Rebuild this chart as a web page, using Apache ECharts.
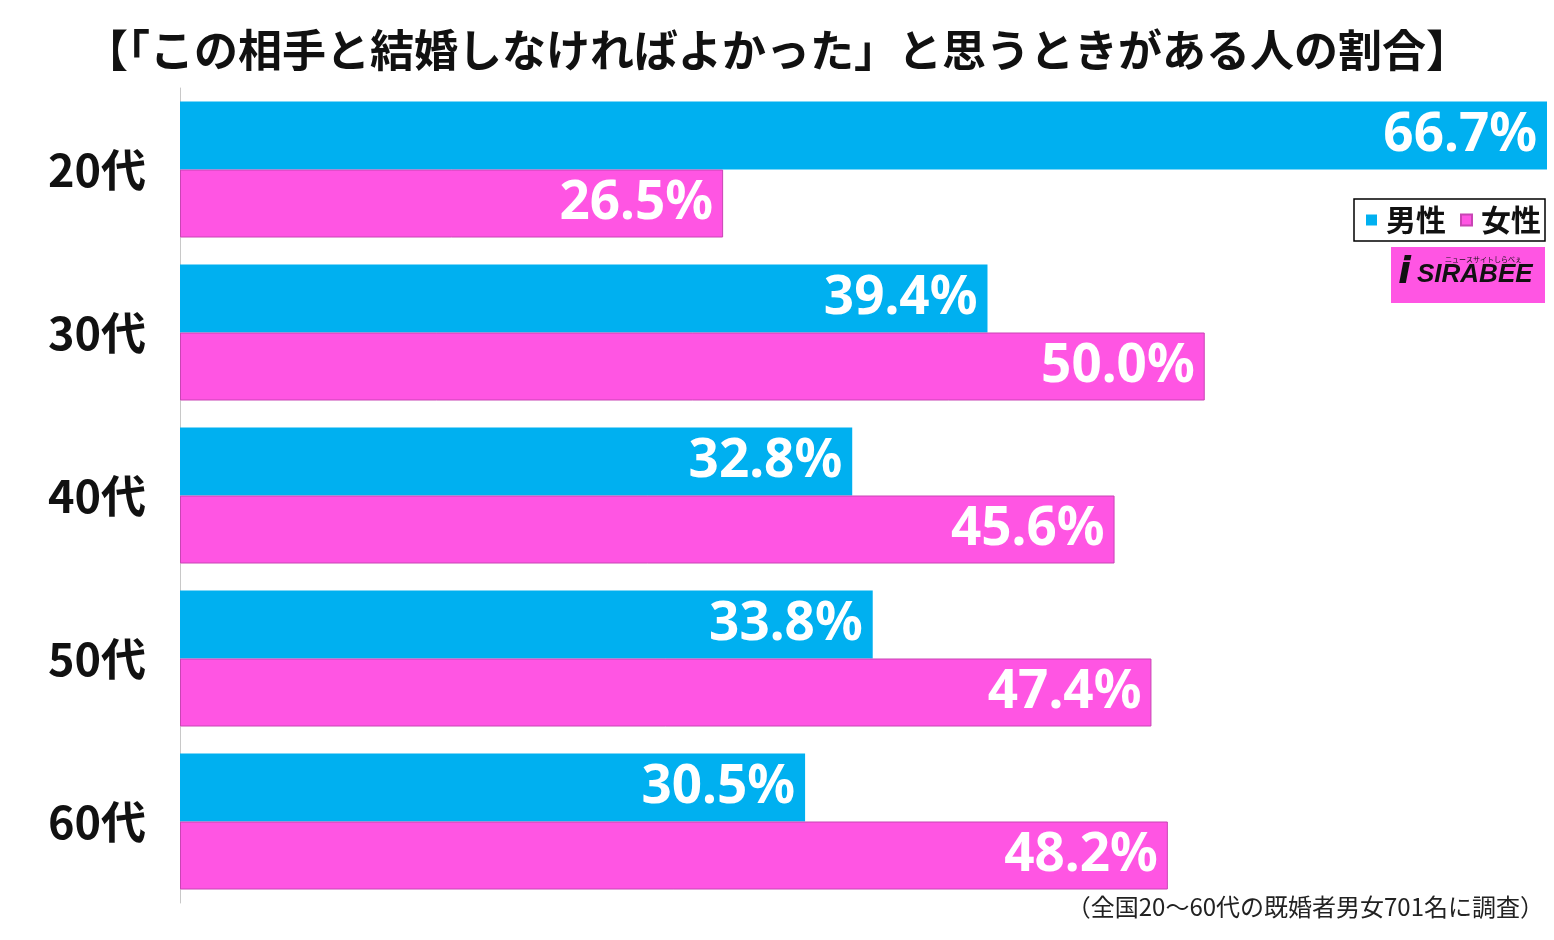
<!DOCTYPE html>
<html><head><meta charset="utf-8">
<script src="https://cdn.jsdelivr.net/npm/echarts@6/dist/echarts.min.js"></script>
<style>html,body{margin:0;padding:0;background:#fff}#c{width:1554px;height:940px}</style>
</head><body><div id="c"></div>
<script>
const categories = ['20代','30代','40代','50代','60代'];
const maleValues = [66.7, 39.4, 32.8, 33.8, 30.5];
const femaleValues = [26.5, 50.0, 45.6, 47.4, 48.2];
const seriesNames = ['男性','女性'];
const titleText = '【「この相手と結婚しなければよかった」と思うときがある人の割合】';
const noteText = '（全国20～60代の既婚者男女701名に調査）';

const chart = echarts.init(document.getElementById('c'), null, {renderer:'canvas'});
const labelCfg = {
  show: true, position: 'insideRight', distance: 10, color: '#fff',
  fontFamily: 'Noto Sans', fontWeight: 'bold', fontSize: 53,
  formatter: p => p.value.toFixed(1) + '%'
};
chart.setOption({
  backgroundColor: '#fff',
  animation: false,
  title: {
    text: titleText, left: 'center', top: 23,
    textStyle: {fontFamily: 'Noto Sans CJK JP', fontWeight: 'bold', fontSize: 44, color: '#111'}
  },
  legend: {
    data: seriesNames, right: 9, top: 199, orient: 'horizontal',
    icon: 'rect', itemWidth: 11, itemHeight: 11, itemGap: 14,
    borderColor: '#000', borderWidth: 1.5, padding: [6, 4, 6, 12],
    textStyle: {fontFamily: 'Noto Sans CJK JP', fontWeight: 'bold', fontSize: 30, color: '#111', padding:[0,0,0,4]}
  },
  grid: {left: 180, right: 7, top: 88, bottom: 37, containLabel: false},
  xAxis: {type: 'value', min: 0, max: 66.7, show: false},
  yAxis: {
    type: 'category', data: categories, inverse: true,
    axisLine: {show: true, lineStyle: {color: '#c8c8c8', width: 1}},
    axisTick: {show: false},
    axisLabel: {margin: 34, color: '#111', fontFamily: 'Noto Sans CJK JP', fontWeight: 'bold', fontSize: 45}
  },
  series: [
    {name: seriesNames[0], type: 'bar', data: maleValues, barWidth: 68, barGap: '0%',
     itemStyle: {color: '#00B0F0'}, label: labelCfg},
    {name: seriesNames[1], type: 'bar', data: femaleValues, barWidth: 68, barGap: '0%',
     itemStyle: {color: '#FF55E3', borderColor: '#C845B4', borderWidth: 1}, label: labelCfg}
  ],
  graphic: [
    {type: 'rect', right: 9, top: 247, shape: {width: 154, height: 56}, style: {fill: '#FF55E3'}},
    {type: 'text', left: 1398, top: 254, style: {text: 'i', fill: '#111', font: 'italic bold 38px "DejaVu Sans"'}},
    {type: 'text', left: 1417, top: 262, style: {text: 'SIRABEE', fill: '#111', font: 'italic bold 26px "Liberation Sans"'}},
    {type: 'text', left: 1445, top: 256, style: {text: 'ニュースサイトしらべぇ', fill: '#111', font: '7px "Noto Sans CJK JP"'}},
    {type: 'text', right: 10, top: 895, style: {text: noteText, fill: '#222', font: '24px "Noto Sans CJK JP"'}}
  ]
});
</script></body></html>
